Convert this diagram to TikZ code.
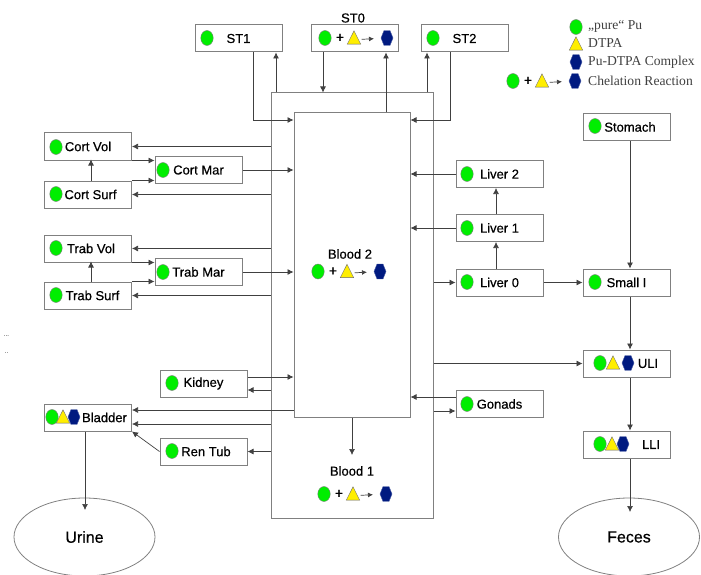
\documentclass[tikz,border=0pt]{standalone}
\usepackage{fontspec}
\setmainfont{Liberation Sans}
\newfontfamily\boxfont[FakeBold=0.5]{Liberation Sans}
\newfontfamily\legendfont{Liberation Serif}
\usetikzlibrary{shapes.geometric,arrows.meta}
\definecolor{linegray}{HTML}{404040}
\definecolor{boxgray}{HTML}{808080}
\definecolor{pugreen}{HTML}{00EE00}
\definecolor{dtpayellow}{HTML}{FFEE00}
\definecolor{cplxblue}{HTML}{001A80}
\tikzset{
  box/.style={draw=boxgray, line width=1pt, fill=white, minimum width=87pt, minimum height=27pt, inner sep=0pt, font=\boxfont\fontsize{13}{15}\selectfont},
  arr/.style={draw=linegray, line width=0.7pt, -{Latex[length=6pt,width=6pt]}},
  pu/.style={draw=boxgray, line width=0.4pt, fill=pugreen, ellipse, minimum width=12.5pt, minimum height=15pt, inner sep=0pt},
  dtpa/.style={draw=black!60, line width=0.4pt, fill=dtpayellow, regular polygon, regular polygon sides=3, minimum size=15.5pt, inner sep=0pt, yscale=1.15, transform shape, yshift=-1.5pt},
  cplx/.style={draw=cplxblue!70, line width=0.4pt, fill=cplxblue, regular polygon, regular polygon sides=6, minimum size=15pt, inner sep=0pt, xscale=.8, yscale=1.15, transform shape},
  title/.style={inner sep=0pt, font=\boxfont\fontsize{13}{15}\selectfont},
  legend/.style={anchor=west, inner sep=0pt, text=black!75, font=\legendfont\fontsize{13.6}{15}\selectfont},
  sink/.style={draw=boxgray, line width=0.8pt, ellipse, minimum width=141pt, minimum height=78pt, inner sep=0pt, font=\boxfont\fontsize{16}{18}\selectfont}
}
% one chelation reaction: name, x of the first symbol, y
\newcommand{\reaction}[3]{
  \node[pu] (#1a) at (#2,#3) {};
  \node[inner sep=0pt, font=\boxfont\fontsize{14}{14}\selectfont] (#1p) at (#2+15,#3) {+};
  \node[dtpa] (#1b) at (#2+29,#3) {};
  \node[cplx] (#1c) at (#2+62,#3) {};
  \draw[arr, -{Latex[length=5pt,width=5pt]}, shorten <=3pt, shorten >=7pt] (#1b) -- (#1c);
}
\begin{document}
\begin{tikzpicture}[x=1pt, y=-1pt]
    \useasboundingbox (0,0) rectangle (701,575);

    % Central compartments
    \node[box, minimum width=162pt, minimum height=425pt] (Blood1) at (352,305.5) {};
    \node[box, minimum width=116pt, minimum height=304pt] (Blood2) at (352,265) {};
    \node[title] (Blood2t) at (350,254) {Blood 2};
    \node[title] (Blood1t) at (352,471) {Blood 1};
    \reaction{BloodB}{318}{271.5}
    \reaction{BloodA}{324}{494}

    % Top row
    \node[box] (ST1) at (238.5,38.5) {ST1};
    \node[box] (ST0) at (354.5,38.5) {};
    \node[box] (ST2) at (464.5,38.5) {ST2};
    \node[title] (ST0t) at (353,18) {ST0};
    \node[pu] (ST1d) at (207,38) {};
    \node[pu] (ST2d) at (433,38) {};
    \reaction{STzero}{325}{38}

    % Left side
    \node[box] (CortVol) at (88,146.5) {Cort Vol};
    \node[box] (CortSurf) at (88,194.5) {\hspace*{5pt}Cort Surf};
    \node[box] (CortMar) at (198.5,170) {Cort Mar};
    \node[box] (TrabVol) at (88,248.5) {\hspace*{6pt}Trab Vol};
    \node[box] (TrabSurf) at (88,295.5) {\hspace*{9pt}Trab Surf};
    \node[box] (TrabMar) at (198.5,272) {Trab Mar};
    \node[box] (Kidney) at (203.5,383.5) {Kidney};
    \node[box] (Bladder) at (88,417.5) {\hspace*{33pt}Bladder};
    \node[box] (RenTub) at (203.5,451.5) {\hspace*{5pt}Ren Tub};
    \node[pu] (CortVold) at (56,147) {};
    \node[pu] (CortSurfd) at (56,194) {};
    \node[pu] (CortMard) at (163,170) {};
    \node[pu] (TrabVold) at (56,248) {};
    \node[pu] (TrabSurfd) at (56,295) {};
    \node[pu] (TrabMard) at (163,272) {};
    \node[pu] (Kidneyd) at (172,383) {};
    \node[pu] (RenTubd) at (172,451) {};
    \node[pu] (Bladdera) at (52,417) {};
    \node[dtpa] (Bladderb) at (63,417) {};
    \node[cplx] (Bladderc) at (74,417) {};

    % Right side
    \node[box] (Liver2) at (499.5,174) {Liver 2};
    \node[box] (Liver1) at (499.5,228) {Liver 1};
    \node[box] (Liver0) at (499.5,282.5) {Liver 0};
    \node[box] (Gonads) at (499.5,404) {Gonads};
    \node[box] (Stomach) at (626.5,127) {\hspace*{7pt}Stomach};
    \node[box] (SmallI) at (626.5,282.5) {Small I};
    \node[box] (ULI) at (626.5,363.5) {\hspace*{43pt}ULI};
    \node[box] (LLI) at (626.5,444.5) {\hspace*{49pt}LLI};
    \node[pu] (Liver2d) at (467,174) {};
    \node[pu] (Liver1d) at (467,228) {};
    \node[pu] (Liver0d) at (467,282) {};
    \node[pu] (Gonadsd) at (467,404) {};
    \node[pu] (Stomachd) at (595,126) {};
    \node[pu] (SmallId) at (595,282) {};
    \node[pu] (ULIa) at (600,363) {};
    \node[dtpa] (ULIb) at (613,363) {};
    \node[cplx] (ULIc) at (628,363) {};
    \node[pu] (LLIa) at (600,444) {};
    \node[dtpa] (LLIb) at (612,444) {};
    \node[cplx] (LLIc) at (623,444) {};

    % Excreta
    \node[sink] (Urine) at (84.5,537) {Urine};
    \node[sink] (Feces) at (629,537) {Feces};

    % Legend
    \node[pu] (Legpu) at (576,27) {};
    \node[dtpa] (Legdtpa) at (576,44) {};
    \node[cplx] (Legcplx) at (576,62) {};
    \node[legend] (Legpua) at (588,26) {„pure“ Pu};
    \node[legend] (Legdtpaa) at (588,43) {DTPA};
    \node[legend] (Legcplxa) at (588,62) {Pu-DTPA Complex};
    \node[legend] (Legreaa) at (588,81) {Chelation Reaction};
    \reaction{Leg}{513}{81}

    % Stray marks at the left edge
    \node[inner sep=0pt, font=\fontsize{6}{6}\selectfont] (Dots1) at (6.5,336) {...};
    \node[inner sep=0pt, font=\fontsize{6}{6}\selectfont] (Dots2) at (6.5,353) {..};

    % Top connectors
    \draw[arr] ([xshift=14.5pt]ST1.south) |- (Blood2.west |- 0,120);
    \draw[arr] (Blood1.north -| 276,0) -- (ST1.south -| 276,0);
    \draw[arr] (ST0.south -| 323,0) -- (Blood1.north -| 323,0);
    \draw[arr] (Blood2.north -| 386,0) -- (ST0.south -| 386,0);
    \draw[arr] (Blood1.north -| 427,0) -- (ST2.south -| 427,0);
    \draw[arr] ([xshift=-14.5pt]ST2.south) |- (Blood2.east |- 0,120);

    % Cortical bone
    \draw[arr] (Blood1.west |- CortVol) -- (CortVol);
    \draw[arr] (CortVol.south east) -- (CortMar.west |- CortVol.south east);
    \draw[arr] (CortSurf.north east) -- (CortMar.west |- CortSurf.north east);
    \draw[arr] (CortSurf.north) ++(3pt,0) -- ++(0,-21);
    \draw[arr] (CortMar) -- (Blood2.west |- CortMar);
    \draw[arr] (Blood1.west |- CortSurf) -- (CortSurf);

    % Trabecular bone
    \draw[arr] (Blood1.west |- TrabVol) -- (TrabVol);
    \draw[arr] (TrabVol.south east) -- (TrabMar.west |- TrabVol.south east);
    \draw[arr] (TrabSurf.north east) -- (TrabMar.west |- TrabSurf.north east);
    \draw[arr] (TrabSurf.north) ++(3pt,0) -- ++(0,-20);
    \draw[arr] (TrabMar) -- (Blood2.west |- TrabMar);
    \draw[arr] (Blood1.west |- TrabSurf) -- (TrabSurf);

    % Urinary path
    \draw[arr] (Kidney.east |- 0,377) -- (Blood2.west |- 0,377);
    \draw[arr] (Blood1.west |- 0,390) -- (Kidney.east |- 0,390);
    \draw[arr] (Blood2.west |- 0,410) -- (Bladder.east |- 0,410);
    \draw[arr] (Blood1.west |- 0,424) -- (Bladder.east |- 0,424);
    \draw[arr] (RenTub.west) -- (Bladder.south east);
    \draw[arr] (Blood1.west |- RenTub) -- (RenTub.east);
    \draw[arr] (Bladder.south -| 85,0) -- (85,510);

    % Liver
    \draw[arr] (Liver2) -- (Blood2.east |- Liver2);
    \draw[arr] (Liver1) -- (Blood2.east |- Liver1);
    \draw[arr] (Blood1.east |- Liver0) -- (Liver0);
    \draw[arr] ([xshift=-3.5pt]Liver0.north) -- ([xshift=-3.5pt]Liver1.south);
    \draw[arr] ([xshift=-3.5pt]Liver1.north) -- ([xshift=-3.5pt]Liver2.south);
    \draw[arr] (Liver0) -- (SmallI);

    % Gonads
    \draw[arr] (Gonads.west |- 0,397) -- (Blood2.east |- 0,397);
    \draw[arr] (Blood1.east |- 0,411) -- (Gonads.west |- 0,411);

    % Gut
    \draw[arr] ([xshift=3.5pt]Stomach.south) -- ([xshift=3.5pt]SmallI.north);
    \draw[arr] ([xshift=3.5pt]SmallI.south) -- ([xshift=3.5pt]ULI.north);
    \draw[arr] ([xshift=3.5pt]ULI.south) -- ([xshift=3.5pt]LLI.north);
    \draw[arr] (Blood1.east |- ULI) -- (ULI);
    \draw[arr] ([xshift=3.5pt]LLI.south) -- ([xshift=3.5pt]LLI.south |- 0,512);

    % Blood 2 to Blood 1
    \draw[arr] (Blood2.south) -- (Blood2.south |- 0,455);
\end{tikzpicture}
\end{document}
